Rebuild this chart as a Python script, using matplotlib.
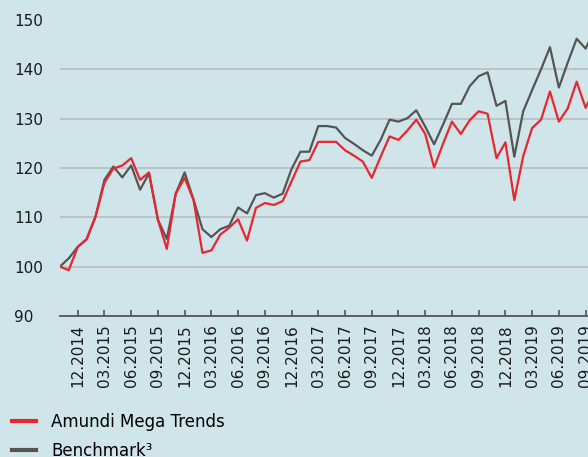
import matplotlib
matplotlib.use('Agg')
import matplotlib.pyplot as plt
from matplotlib.lines import Line2D
import numpy as np
import pandas as pd

# monthly points, 10.2014 - 10.2019
months = pd.period_range('2014-10', '2019-10', freq='M').strftime('%m.%Y').tolist()

fund = [100.0, 99.3, 104.0, 105.6, 110.2, 117.0, 119.9, 120.5, 122.0, 117.6,
        119.1, 109.5, 103.6, 114.8, 118.0, 113.5, 102.8, 103.3, 106.5, 107.9,
        109.6, 105.3, 111.9, 112.9, 112.5, 113.3, 117.3, 121.3, 121.6, 125.3,
        125.3, 125.3, 123.6, 122.5, 121.3, 118.0, 122.3, 126.4, 125.7, 127.6,
        129.8, 126.9, 120.1, 124.9, 129.4, 126.9, 129.7, 131.5, 131.0, 122.0,
        125.2, 113.5, 122.4, 128.1, 129.8, 135.5, 129.4, 132.1, 137.5, 132.2,
        136.0]

benchmark = [100.0, 101.7, 104.0, 105.5, 110.1, 117.6, 120.3, 118.1, 120.5, 115.6,
             118.9, 109.5, 105.6, 114.8, 119.1, 113.6, 107.6, 106.0, 107.6, 108.3,
             112.0, 110.8, 114.5, 114.9, 114.0, 114.8, 119.8, 123.3, 123.3, 128.5,
             128.5, 128.2, 126.1, 124.9, 123.6, 122.5, 125.7, 129.8, 129.4, 130.1,
             131.7, 128.4, 124.8, 128.8, 133.0, 133.0, 136.6, 138.6, 139.4, 132.6,
             133.6, 122.3, 131.5, 135.8, 140.0, 144.5, 136.3, 141.4, 146.2, 144.2,
             148.0]

tick_labels = ['12.2014', '03.2015', '06.2015', '09.2015', '12.2015', '03.2016',
               '06.2016', '09.2016', '12.2016', '03.2017', '06.2017', '09.2017',
               '12.2017', '03.2018', '06.2018', '09.2018', '12.2018', '03.2019',
               '06.2019', '09.2019']

series_names = ['Amundi Mega Trends', 'Benchmark³']

bg = '#cfe5ea'
red = '#e8262f'
grey = '#555555'

plt.rcParams['font.family'] = 'DejaVu Sans'

fig = plt.figure(figsize=(5.88, 4.57), dpi=100, facecolor=bg)
ax = fig.add_axes([59.9 / 588, 1 - 316 / 457, (588 - 59.9) / 588, 296 / 457])
ax.set_facecolor(bg)

x = np.arange(len(months))
ax.plot(x, benchmark, color=grey, lw=1.6, zorder=3)
ax.plot(x, fund, color=red, lw=1.6, zorder=4)

# rechts angeschnitten wie im original
ax.set_xlim(0, (588 - 59.9) / 8.91)
ax.set_ylim(90, 150)

# achse unten, gitter
for s in ['top', 'right', 'left']:
    ax.spines[s].set_visible(False)
ax.spines['bottom'].set_color(grey)
ax.spines['bottom'].set_linewidth(1.3)

ax.set_yticks(np.arange(90, 151, 10))
ax.grid(axis='y', color='#bcbfc0', lw=1.3, zorder=1)
ax.set_axisbelow(True)
glines = ax.yaxis.get_gridlines()
glines[0].set_visible(False)
glines[-1].set_visible(False)
ax.tick_params(axis='y', length=0, pad=33, labelsize=11, labelcolor='#1a1a1a')
for lbl in ax.get_yticklabels():
    lbl.set_ha('left')

ticks = [months.index(t) for t in tick_labels]
ax.set_xticks(ticks)
ax.set_xticklabels(tick_labels, rotation=90)
ax.tick_params(axis='x', direction='in', length=4.5, width=1.2, color=grey,
               pad=6, labelsize=11, labelcolor='#1a1a1a')

# legende
handles = [Line2D([], [], color=red, lw=3), Line2D([], [], color=grey, lw=3)]
fig.legend(handles, series_names, loc='upper left', bbox_to_anchor=(0.02, 0.096),
           frameon=False, fontsize=12, handlelength=1.45, handletextpad=0.9,
           borderpad=0, borderaxespad=0, labelspacing=0.63)

plt.savefig('out.png', dpi=100, facecolor=bg)
